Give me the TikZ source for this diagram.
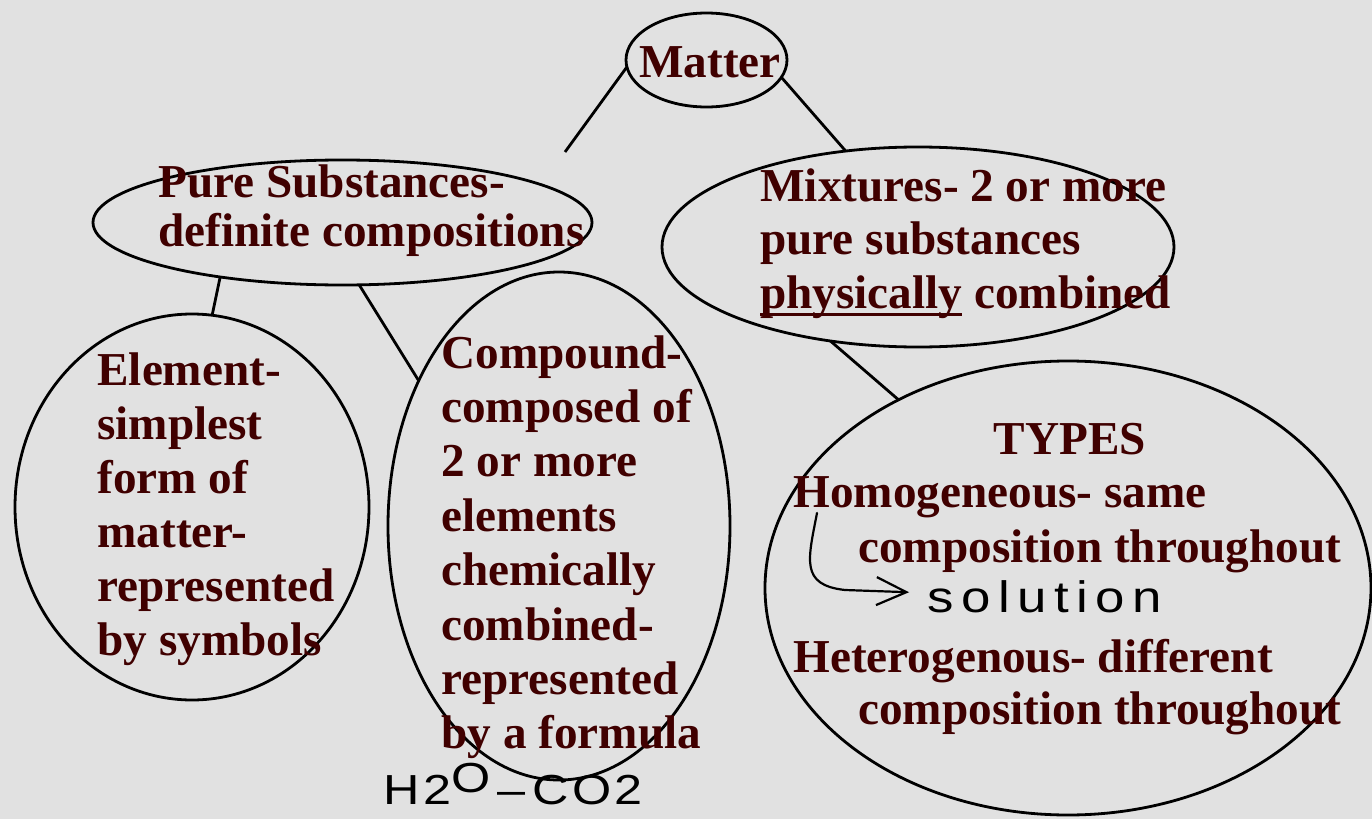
\documentclass[tikz,border=0pt]{standalone}
\usepackage{fontspec}
\setmainfont{Liberation Serif}
\newfontfamily\handfont{Liberation Sans}
\usetikzlibrary{arrows.meta, shapes.geometric}
\definecolor{ink}{HTML}{400000}
\definecolor{paper}{HTML}{E1E1E1}
\newcommand{\thickul}[1]{\setbox0\hbox{#1}\rlap{\rule[-4pt]{\wd0}{1.6pt}}\box0\relax}

\begin{document}
\begin{tikzpicture}[x=0.5pt, y=-0.5pt,
      bubble/.style={draw, ellipse, line width=1.4pt, inner sep=0pt, outer sep=0pt},
      txt/.style={anchor=north west, inner sep=0pt, text=ink, align=left,
                  font=\bfseries\fontsize{23.6}{#1}\selectfont},
      txt/.default=27,
      link/.style={line width=1.4pt},
      hand/.style={line width=1.1pt, line cap=round, line join=round}]
    \fill[paper] (0,0) rectangle (1372,819);
    \useasboundingbox (0,0) rectangle (1372,819);
    % bubbles
    \node[bubble, minimum width=80.5pt, minimum height=47pt]  (matter)   at (706.5,60)    {};
    \node[bubble, minimum width=249.5pt, minimum height=62.5pt] (pure)   at (342.5,222.5) {};
    \node[bubble, minimum width=256pt, minimum height=100pt]  (mix)      at (918,247)     {};
    \node[bubble, minimum width=177pt, minimum height=193pt]  (element)  at (192,507)     {};
    \node[bubble, minimum width=171pt, minimum height=254pt]  (compound) at (559,526)     {};
    \node[bubble, minimum width=303pt, minimum height=227pt]  (types)    at (1068,588)    {};
    % texts
    \node[txt, anchor=base] (mattertxt) at (710,77) {Matter};
    \node[txt=24.5]  (puretxt)   at (158,164) {Pure Substances-\\definite compositions};
    \node[txt=26.75] (mixtxt)    at (760,168) {Mixtures- 2 or more\\pure substances\\\thickul{physically} combined};
    \node[txt]       (elemtxt)   at (97,352)  {Element-\\simplest\\form of\\matter-\\represented\\by symbols};
    \node[txt=27.2]  (comptxt)   at (441,335) {Compound-\\composed of\\2 or more\\elements\\chemically\\combined-\\represented\\by a formula};
    \node[txt, anchor=base] (typestxt) at (1070,454) {TYPES};
    \node[txt=27.5]  (homotxt)   at (793,476) {Homogeneous- same\\\hspace*{32.5pt}composition throughout};
    \node[txt=26]    (heterotxt) at (793,639) {Heterogenous- different\\\hspace*{32.5pt}composition throughout};
    % links
    \coordinate (pureTip) at (565,152);
    \draw[link] (matter.185.8) -- (pureTip);
    \draw[link] (matter.347.3) -- (mix.127.7);
    \draw[link] (pure.204.7) -- (element.84.3);
    \draw[link] (pure.285.2) -- (compound.134.4);
    \draw[link] (mix.227.7) -- (types.132);
    % handwritten notes
    \node[anchor=west, inner sep=0pt,
          font=\handfont\addfontfeatures{FakeStretch=1.2, LetterSpace=17}\fontsize{22}{22}\selectfont] (sol) at (927,597) {solution};
    \coordinate (hook) at (817,513);
    \draw[hand, -{Straight Barb[length=15pt, width=14pt]}, shorten >=9pt]
      (hook) .. controls (808,560) and (800,585) .. (845,590) -- (sol);
    \node[anchor=west, inner sep=0pt,
          font=\handfont\addfontfeatures{FakeStretch=1.2, LetterSpace=8}\fontsize{21}{21}\selectfont] (formula) at (383,784) {H2\raisebox{6pt}{O}\,–\,CO2};
  \end{tikzpicture}
\end{document}
